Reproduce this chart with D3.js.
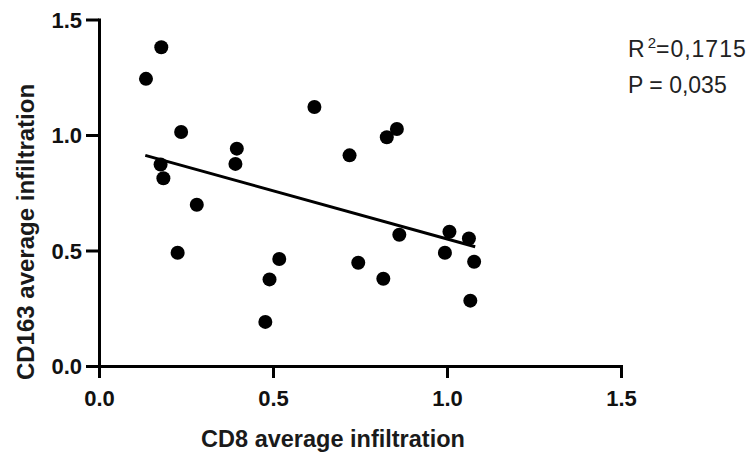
<!DOCTYPE html>
<html>
<head>
<meta charset="utf-8">
<script src="https://cdn.jsdelivr.net/npm/d3@7"></script>
<style>
  body { margin: 0; background: #fff; }
  svg { display: block; }
</style>
</head>
<body>
<svg id="chart"></svg>
<script>
// CD8 vs CD163 average infiltration, one dot per sample
const cd8 = [0.135, 0.179, 0.236, 0.177, 0.185, 0.281, 0.396, 0.392, 0.619, 0.720,
             0.856, 0.827, 0.226, 0.518, 0.490, 0.478, 0.745, 0.817, 0.863, 1.007,
             1.063, 0.994, 1.078, 1.067];
const cd163 = [1.243, 1.380, 1.013, 0.872, 0.813, 0.698, 0.941, 0.875, 1.121, 0.912,
               1.026, 0.990, 0.490, 0.463, 0.375, 0.191, 0.447, 0.378, 0.568, 0.581,
               0.552, 0.490, 0.451, 0.283];
// linear fit as drawn (start and end of the line)
const fitX = [0.133, 1.081];
const fitY = [0.912, 0.516];
const xTicks = [0, 0.5, 1.0, 1.5];
const yTicks = [0, 0.5, 1.0, 1.5];
const stats = ["R", "2", "=0,1715", "P = 0,035"];

const width = 752, height = 454;
const svg = d3.select("#chart").attr("width", width).attr("height", height);

const x = d3.scaleLinear().domain([0, 1.5]).range([99, 621]);
const y = d3.scaleLinear().domain([0, 1.5]).range([366, 19.5]);

const font = "'Liberation Sans', Arial, sans-serif";

const xAxis = svg.append("g")
  .attr("transform", `translate(0,${y(0)})`)
  .call(d3.axisBottom(x).tickValues(xTicks).tickFormat(d3.format(".1f"))
    .tickSize(12).tickSizeOuter(0).tickPadding(12));

const yAxis = svg.append("g")
  .attr("transform", `translate(${x(0)},0)`)
  .call(d3.axisLeft(y).tickValues(yTicks).tickFormat(d3.format(".1f"))
    .tickSize(13).tickSizeOuter(0).tickPadding(4));

[xAxis, yAxis].forEach(g => {
  g.select(".domain").attr("stroke", "#000").attr("stroke-width", 3);
  g.selectAll(".tick line").attr("stroke", "#000").attr("stroke-width", 3);
  g.selectAll(".tick text")
    .attr("fill", "#111")
    .attr("font-family", font)
    .attr("font-weight", "bold")
    .attr("font-size", 22);
});
yAxis.selectAll(".tick text").attr("dy", "0.36em");
// square line caps so the axes meet cleanly
svg.selectAll(".domain").attr("stroke-linecap", "square");

svg.append("text")
  .attr("x", 333).attr("y", 447)
  .attr("text-anchor", "middle")
  .attr("font-family", font).attr("font-weight", "bold").attr("font-size", 23.5)
  .attr("fill", "#1a1a1a")
  .text("CD8 average infiltration");

svg.append("text")
  .attr("transform", `translate(34,${232}) rotate(-90)`)
  .attr("text-anchor", "middle")
  .attr("font-family", font).attr("font-weight", "bold").attr("font-size", 24)
  .attr("fill", "#1a1a1a")
  .text("CD163 average infiltration");

// regression line
const line = d3.line().x(d => x(d[0])).y(d => y(d[1]));
svg.append("path")
  .attr("d", line(d3.zip(fitX, fitY)))
  .attr("fill", "none")
  .attr("stroke", "#000")
  .attr("stroke-width", 3);

// data points
svg.append("g")
  .selectAll("circle")
  .data(d3.zip(cd8, cd163))
  .join("circle")
  .attr("cx", d => x(d[0]))
  .attr("cy", d => y(d[1]))
  .attr("r", 7)
  .attr("fill", "#000");

// fit statistics
const st = svg.append("text")
  .attr("x", 628).attr("y", 57)
  .attr("font-family", font).attr("font-size", 23).attr("fill", "#222");
st.append("tspan").text(stats[0]);
st.append("tspan").attr("dx", 3).attr("dy", -9).attr("font-size", 15).text(stats[1]);
st.append("tspan").attr("dy", 9).attr("letter-spacing", 1).text(stats[2]);

svg.append("text")
  .attr("x", 628).attr("y", 93)
  .attr("font-family", font).attr("font-size", 23).attr("fill", "#222")
  .text(stats[3]);
</script>
</body>
</html>
